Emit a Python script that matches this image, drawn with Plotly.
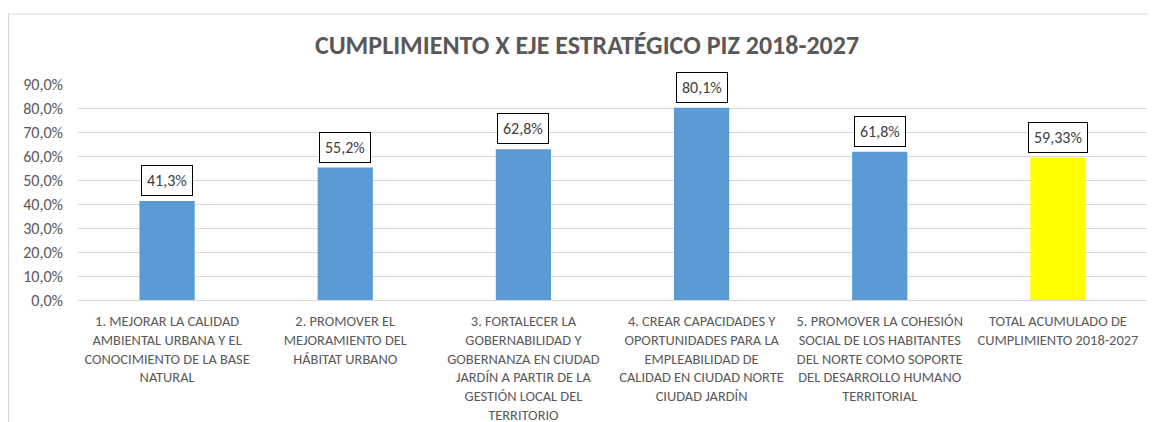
import plotly.graph_objects as go

categories = [
    "1. MEJORAR LA CALIDAD<br>AMBIENTAL URBANA Y EL<br>CONOCIMIENTO DE LA BASE<br>NATURAL",
    "2. PROMOVER EL<br>MEJORAMIENTO DEL<br>HÁBITAT URBANO",
    "3. FORTALECER LA<br>GOBERNABILIDAD Y<br>GOBERNANZA EN CIUDAD<br>JARDÍN A PARTIR DE LA<br>GESTIÓN LOCAL DEL<br>TERRITORIO",
    "4. CREAR CAPACIDADES Y<br>OPORTUNIDADES PARA LA<br>EMPLEABILIDAD DE<br>CALIDAD EN CIUDAD NORTE<br>CIUDAD JARDÍN",
    "5. PROMOVER LA COHESIÓN<br>SOCIAL DE LOS HABITANTES<br>DEL NORTE COMO SOPORTE<br>DEL DESARROLLO HUMANO<br>TERRITORIAL",
    "TOTAL ACUMULADO DE<br>CUMPLIMIENTO 2018-2027",
]
values = [0.413, 0.552, 0.628, 0.801, 0.618, 0.5933]
label_decimals = [1, 1, 1, 1, 1, 2]
bar_colors = ["#5B9BD5", "#5B9BD5", "#5B9BD5", "#5B9BD5", "#5B9BD5", "#FFFF00"]
y_ticks = [0, 0.1, 0.2, 0.3, 0.4, 0.5, 0.6, 0.7, 0.8, 0.9]

FONT = "Carlito, Lato, 'Open Sans', sans-serif"
x_idx = list(range(len(categories)))

# the page body adds an 8px offset; layout numbers are in figure pixels
W, H = 1156, 422
L, T, PW, PH = 70, 76, 1069, 216

fig = go.Figure()
fig.add_trace(go.Bar(
    x=x_idx, y=values, marker=dict(color=bar_colors, line=dict(width=0)),
    width=0.31, hoverinfo="skip",
))

for i, (v, d) in enumerate(zip(values, label_decimals)):
    txt = f"{v*100:.{d}f}%".replace(".", ",")
    fig.add_annotation(
        x=i, y=v, text=txt, showarrow=False, yanchor="bottom", yshift=5,
        font=dict(family=FONT, size=16, color="#404040"),
        bgcolor="white", bordercolor="#000000", borderwidth=1, borderpad=5,
    )

fig.update_layout(
    width=W, height=H,
    margin=dict(l=L, r=W - L - PW, t=T, b=H - T - PH, autoexpand=False),
    paper_bgcolor="white", plot_bgcolor="white",
    separators=",.",
    showlegend=False,
    title=dict(
        text="<b>CUMPLIMIENTO X EJE ESTRATÉGICO PIZ 2018-2027</b>",
        x=579 / W, xanchor="center", y=1 - 37 / H, yanchor="middle",
        font=dict(family=FONT, size=26, color="#595959"),
    ),
    xaxis=dict(
        tickmode="array", tickvals=x_idx, ticktext=categories,
        range=[-0.5, len(categories) - 0.5], automargin=False,
        showgrid=False, zeroline=False, showline=True, linecolor="#D9D9D9", linewidth=1,
        ticks="", ticklabelstandoff=8,
        tickfont=dict(family=FONT, size=14.4, color="#595959"),
        tickangle=0,
    ),
    yaxis=dict(
        range=[0, 0.9], tickmode="array", tickvals=y_ticks, tickformat=".1%",
        showgrid=True, gridcolor="#D9D9D9", gridwidth=1, zeroline=False,
        showline=False, ticks="", ticklabelstandoff=14, automargin=False,
        tickfont=dict(family=FONT, size=16, color="#595959"),
    ),
    shapes=[
        dict(type="line", xref="paper", yref="paper",
             x0=(0 - L) / PW, x1=(1140 - L) / PW, y0=(T + PH - 6) / PH, y1=(T + PH - 6) / PH,
             line=dict(color="#D9D9D9", width=1)),
        dict(type="line", xref="paper", yref="paper",
             x0=(0.5 - L) / PW, x1=(0.5 - L) / PW, y0=(T + PH - 6) / PH, y1=(T + PH - H) / PH,
             line=dict(color="#D9D9D9", width=1)),
    ],
)

fig.write_html("out.html")
